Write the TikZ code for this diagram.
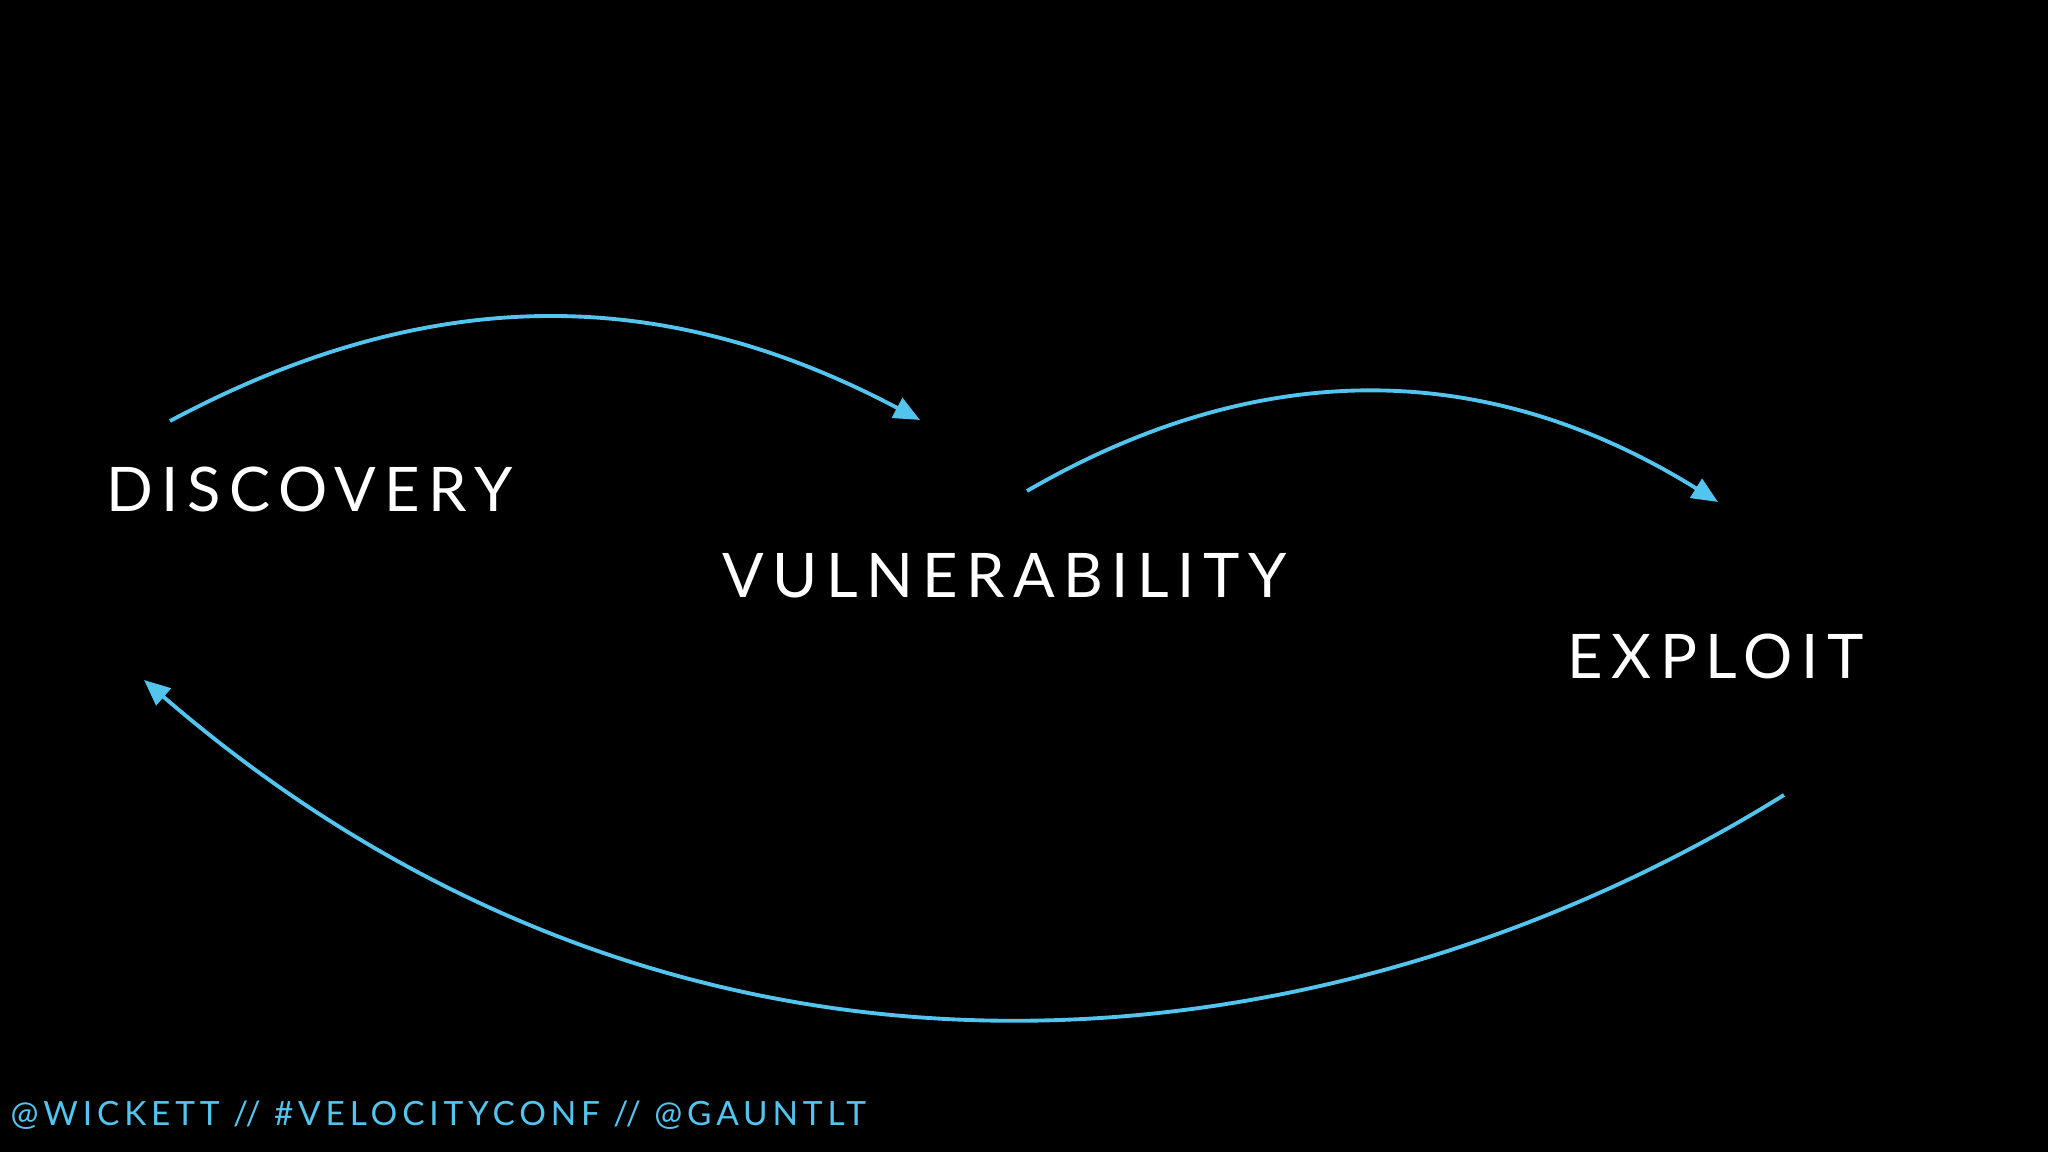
\documentclass[tikz,border=0pt]{standalone}
\usepackage{fontspec}
\setmainfont{Lato}
\usetikzlibrary{arrows.meta}
\definecolor{slideblue}{RGB}{82,196,238}
\newfontfamily\stagefont[LetterSpace=13.8]{Lato}
\newfontfamily\tagfont[LetterSpace=14.5]{Lato}
\tikzset{
    stage/.style={inner sep=0, anchor=base west, text=white, font=\stagefont\fontsize{17.5}{20}\selectfont},
    flow/.style={draw=slideblue, line width=1.1pt, -{Triangle[length=0.26cm, width=0.22cm]}}
}
\begin{document}
\begin{tikzpicture}

        \fill [black] (0,0) rectangle (20.48,11.52);
        \useasboundingbox (0,0) rectangle (20.48,11.52);

        \node [stage] (discovery) at (1.06,6.40) {DISCOVERY};
        \node [stage] (vuln) at (7.22,5.54) {VULNERABILITY};
        \node [stage] (exploit) at (15.67,4.73) {EXPLOIT};

        \coordinate (discovery out) at (1.70,7.31);
        \coordinate (vuln in) at (9.20,7.32);
        \coordinate (vuln out) at (10.27,6.61);
        \coordinate (exploit in) at (17.18,6.50);
        \coordinate (exploit out) at (17.84,3.57);
        \coordinate (discovery in) at (1.44,4.72);

        \draw [flow] (discovery out) to [bend left=28] (vuln in);
        \draw [flow] (vuln out) to [bend left=31] (exploit in);
        \draw [flow] (exploit out) .. controls (13.50,0.87) and (7.00,-0.08) .. (discovery in);

        \node [inner sep=0, anchor=base west, text=slideblue, font=\tagfont\fontsize{9.5}{11}\selectfont] (tags) at (0.10,0.26) {@WICKETT // \#VELOCITYCONF // @GAUNTLT};

    \end{tikzpicture}
\end{document}
